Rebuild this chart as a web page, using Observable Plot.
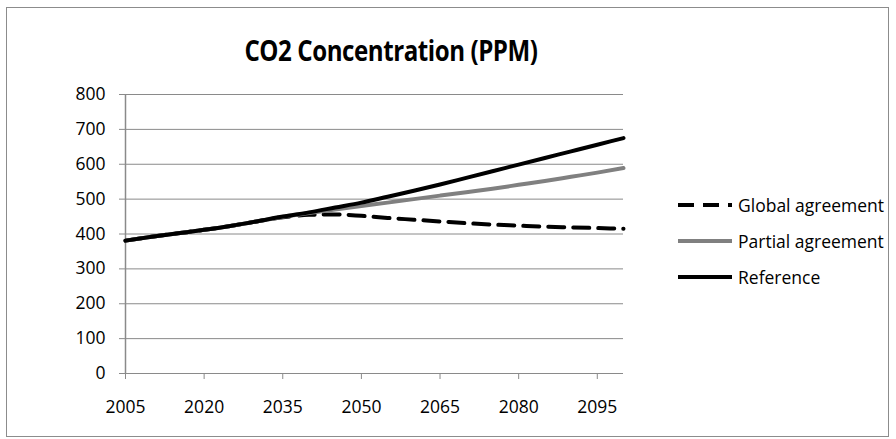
<!DOCTYPE html>
<html>
<head>
<meta charset="utf-8">
<script src="https://cdn.jsdelivr.net/npm/d3@7"></script>
<script src="https://cdn.jsdelivr.net/npm/@observablehq/plot@0.6"></script>
<style>
  html, body { margin: 0; padding: 0; background: #fff; }
  #wrap { position: relative; width: 896px; height: 439px; overflow: hidden; font-family: "Open Sans", sans-serif; }
  #frame { position: absolute; left: 6px; top: 7px; width: 883px; height: 430px; border: 1px solid #8c8c8c; box-sizing: border-box; pointer-events: none; }
  #title { position: absolute; left: 0; width: 782px; top: 31px; line-height: 38px; text-align: center; font-weight: 700; font-size: 28px; color: #000; letter-spacing: -0.5px; transform: scaleX(0.86); transform-origin: 391px 50%; }
  #legend { position: absolute; left: 677px; top: 187px; font-size: 17.5px; color: #000; }
  .item { display: flex; align-items: center; height: 36px; }
  .item svg { margin-right: 5px; }
</style>
</head>
<body>
<div id="wrap">
  <div id="chart"></div>
  <div id="frame"></div>
  <div id="title">CO2 Concentration (PPM)</div>
  <div id="legend"></div>
</div>
<script>
const years = [2005, 2010, 2015, 2020, 2025, 2030, 2035, 2040, 2045, 2050, 2055, 2060, 2065, 2070, 2075, 2080, 2085, 2090, 2095, 2100];
const globalAgreement  = [381, 392, 402, 412, 423, 436, 448, 455, 456, 452, 446, 441, 436, 431, 427, 424, 421, 419, 417, 415];
const partialAgreement = [381, 392, 402, 412, 423, 436, 449, 460, 470, 480, 490, 500, 510, 520, 530, 541, 552, 564, 576, 589];
const referenceSeries  = [381, 392, 402, 412, 423, 436, 450, 462, 476, 490, 507, 524, 542, 561, 580, 599, 618, 637, 656, 675];
const seriesNames = ["Global agreement", "Partial agreement", "Reference"];
const xTicks = [2005, 2020, 2035, 2050, 2065, 2080, 2095];
const yTicks = [0, 100, 200, 300, 400, 500, 600, 700, 800];

const styles = {
  "Global agreement": {stroke: "#000000", dash: "16,9"},
  "Partial agreement": {stroke: "#808080", dash: null},
  "Reference": {stroke: "#000000", dash: null}
};

const seriesValues = [globalAgreement, partialAgreement, referenceSeries];
const rows = [];
seriesNames.forEach((name, i) => {
  years.forEach((yr, j) => rows.push({series: name, year: yr, value: seriesValues[i][j]}));
});

const gridColor = "#8a8a8a";
const marks = [
  Plot.ruleY(yTicks, {stroke: gridColor, strokeWidth: 1, strokeOpacity: 1}),
  Plot.ruleX([2005], {y1: 0, y2: 800, stroke: gridColor, strokeWidth: 1.5, strokeOpacity: 1}),
  Plot.axisY({ticks: yTicks, label: null, tickSize: 6, tickPadding: 14, stroke: gridColor, strokeOpacity: 1, fontSize: 17.5, tickFormat: d => String(d)}),
  Plot.axisX({ticks: xTicks, label: null, tickSize: 6, tickPadding: 21, stroke: gridColor, strokeOpacity: 1, fontSize: 17.5, tickFormat: d => String(d)})
];
seriesNames.forEach(name => {
  marks.push(Plot.line(rows.filter(r => r.series === name), {
    x: "year", y: "value", stroke: styles[name].stroke, strokeWidth: 4,
    strokeDasharray: styles[name].dash || undefined, curve: "monotone-x"
  }));
});

const chart = Plot.plot({
  width: 896, height: 439,
  marginLeft: 125, marginRight: 273, marginTop: 94, marginBottom: 66,
  x: {domain: [2005, 2100], axis: null},
  y: {domain: [0, 800], axis: null},
  style: {fontFamily: "Open Sans, sans-serif", color: "#000", background: "#fff"},
  marks
});
document.getElementById("chart").appendChild(chart);

const legend = document.getElementById("legend");
seriesNames.forEach(name => {
  const div = document.createElement("div");
  div.className = "item";
  const s = styles[name];
  div.innerHTML = `<svg width="56" height="8"><line x1="1" y1="4" x2="55" y2="4" stroke="${s.stroke}" stroke-width="4" ${s.dash ? `stroke-dasharray="${s.dash}"` : ""}/></svg><span>${name}</span>`;
  legend.appendChild(div);
});
</script>
</body>
</html>
